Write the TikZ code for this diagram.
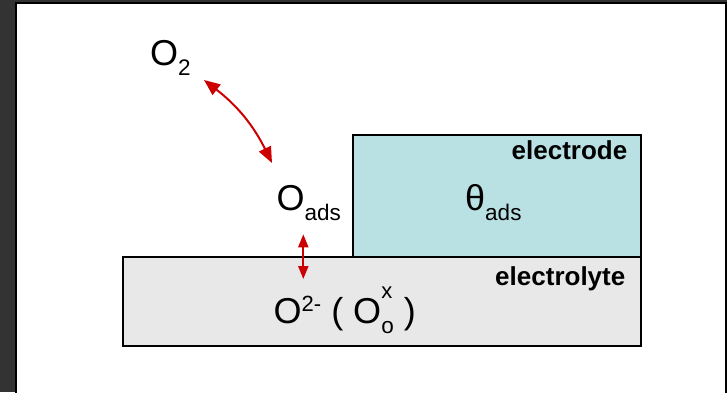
\documentclass[tikz,border=0pt]{standalone}
\usepackage{fontspec}
\setmainfont{Liberation Sans}
\usetikzlibrary{arrows.meta}
\definecolor{backdark}{RGB}{51,51,51}
\definecolor{electrodecyan}{RGB}{185,224,227}
\definecolor{electrolytegray}{RGB}{232,232,232}
\definecolor{reactred}{RGB}{204,0,0}
\newcommand{\lowsub}[1]{\raisebox{-10pt}{\fontsize{22.5}{22}\selectfont #1}}
\newcommand{\highsup}[2]{\raisebox{#1}{\fontsize{22}{22}\selectfont #2}}
\begin{document}
\begin{tikzpicture}[x=1pt, y=-1pt,
  species/.style={inner sep=0pt, anchor=base west, font=\fontsize{36}{40}\selectfont},
  layerlabel/.style={inner sep=0pt, anchor=base east, font=\fontsize{26}{28}\selectfont\bfseries},
  layer/.style={draw, line width=2pt, anchor=north west, inner sep=0pt},
  reaction/.style={reactred, line width=2pt}]
\useasboundingbox (0,0) rectangle (727,392);
% frame
\fill[backdark] (0,0) rectangle (727,392);
\draw[line width=2pt, fill=white] (16,3) rectangle (726,400);
% layers
\node[layer, fill=electrodecyan, minimum width=288pt, minimum height=122pt] (electrode) at (352,134) {};
\node[layer, fill=electrolytegray, minimum width=518pt, minimum height=89pt] (electrolyte) at (122,256) {};
\node[layerlabel] (electrodelabel) at (627.5,159.5) {electrode};
\node[layerlabel] (electrolytelabel) at (625.5,285) {electrolyte};
% species
\node[species] (o2) at (150,65) {O\lowsub{2}};
\node[species] (oads) at (276.3,210.7) {O\lowsub{ads}};
\node[species] (thetaads) at (465,210) {θ\lowsub{ads}};
\node[species] (obulk) at (273.5,323.3) {O\highsup{11.6pt}{2-} ( O\rlap{\highsup{25pt}{x}}\lowsub{o} )};
% reactions
\coordinate (gasend) at (204,80);
\coordinate (adsend) at (272,163);
\coordinate (surfend) at (303.3,234.3);
\coordinate (bulkend) at (303.3,279);
\draw[reaction, {Triangle[length=16pt,width=13pt]}-{Triangle[length=16pt,width=13pt]}] (gasend) to[bend left=13] (adsend);
\draw[reaction, {Triangle[length=13pt,width=10pt]}-{Triangle[length=13pt,width=10pt]}] (surfend) -- (bulkend);
\end{tikzpicture}
\end{document}
